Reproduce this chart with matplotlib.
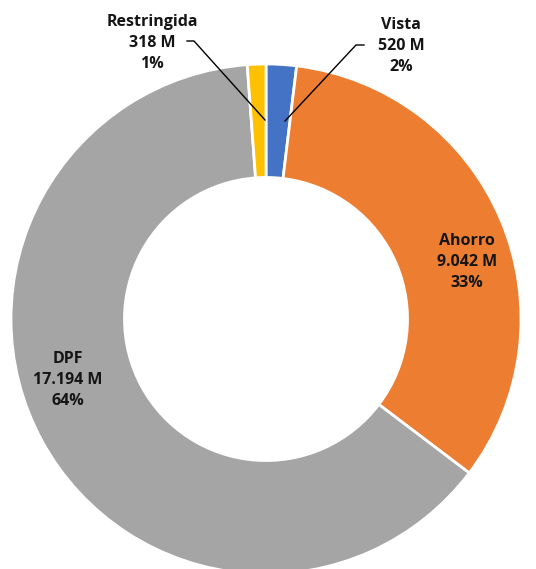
import matplotlib.pyplot as plt

categories = ['Vista', 'Ahorro', 'DPF', 'Restringida']
values = [520, 9042, 17194, 318]
value_labels = ['520 M', '9.042 M', '17.194 M', '318 M']
colors = ['#4472C4', '#ED7D31', '#A5A5A5', '#FFC000']

W, H = 536, 569
plt.rcParams['font.family'] = ['Open Sans', 'DejaVu Sans']

fig = plt.figure(figsize=(W / 100, H / 100), dpi=100)
ax = fig.add_axes([0, 0, 1, 1])

cx, cy, r = 266, H - 319, 255
wedges, _ = ax.pie(values, colors=colors, startangle=90, counterclock=False,
                   center=(cx, cy), radius=r, frame=True,
                   wedgeprops=dict(width=r * 0.445, edgecolor='white', linewidth=2))
ax.set_xlim(0, W)
ax.set_ylim(0, H)
ax.set_aspect('equal')
ax.axis('off')

total = sum(values)
pct = [round(v / total * 100) for v in values]


def label(i):
    return '%s\n%s\n%d%%' % (categories[i], value_labels[i], pct[i])


kw = dict(ha='center', va='center', fontsize=11.5, fontweight='bold', color='#151515', linespacing=1.45)
ax.text(401, H - 46, label(0), **kw)
ax.text(467, H - 262, label(1), **kw)
ax.text(68, H - 380, label(2), **kw)
ax.text(152, H - 43, label(3), **kw)

# leader lines
ax.plot([364, 356, 285], [H - 45, H - 45, H - 121], color='black', lw=1)
ax.plot([187, 194, 265], [H - 41, H - 41, H - 120], color='black', lw=1)

fig.savefig('out.png', dpi=100)
